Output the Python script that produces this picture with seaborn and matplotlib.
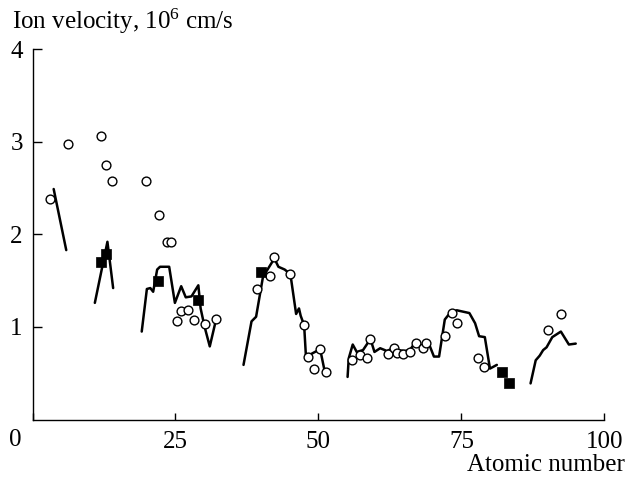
import matplotlib
matplotlib.use("Agg")
import matplotlib.pyplot as plt
import seaborn as sns
import pandas as pd

# Measured ion velocities (open circles) and reference points (filled squares)
circle_z = [3.0, 6.2, 11.9, 12.8, 13.9, 19.9, 22.1, 23.5, 24.2, 25.2, 26.0, 27.2,
            28.2, 30.2, 32.1, 39.2, 41.5, 42.3, 45.1, 47.5, 48.2, 49.3, 50.3, 51.3,
            55.9, 57.3, 58.5, 59.1, 62.1, 63.3, 63.7, 64.8, 66.1, 67.0, 68.3, 68.9,
            72.2, 73.4, 74.2, 77.9, 79.0, 90.2, 92.5]
circle_v = [2.38, 2.98, 3.06, 2.75, 2.58, 2.58, 2.21, 1.92, 1.92, 1.06, 1.17, 1.18,
            1.07, 1.03, 1.09, 1.41, 1.55, 1.76, 1.57, 1.02, 0.67, 0.55, 0.76, 0.51,
            0.64, 0.70, 0.66, 0.87, 0.71, 0.77, 0.72, 0.71, 0.73, 0.83, 0.77, 0.83,
            0.90, 1.15, 1.04, 0.66, 0.57, 0.97, 1.14]

square_z = [11.9, 12.8, 22.0, 28.9, 40.0, 82.1, 83.4]
square_v = [1.70, 1.79, 1.50, 1.29, 1.59, 0.51, 0.39]

# Calculated curves, one per period of the table
seg1_z = [3.7, 5.9]
seg1_v = [2.49, 1.83]
seg2_z = [10.9, 12.0, 13.1, 14.1]
seg2_v = [1.26, 1.59, 1.92, 1.42]
seg3_z = [19.1, 20.0, 20.6, 21.1, 21.8, 22.3, 23.9, 24.9, 26.0, 26.8, 27.8, 29.0,
          29.4, 30.1, 31.0, 32.1]
seg3_v = [0.95, 1.41, 1.42, 1.38, 1.62, 1.65, 1.65, 1.26, 1.44, 1.32, 1.33, 1.45,
          1.20, 1.00, 0.79, 1.08]
seg4_z = [36.9, 38.3, 39.1, 40.3, 42.3, 43.0, 44.1, 45.1, 46.1, 46.6, 46.9, 47.5,
          47.8, 48.5, 50.3, 51.1]
seg4_v = [0.59, 1.06, 1.11, 1.54, 1.74, 1.65, 1.62, 1.57, 1.14, 1.20, 1.12, 1.02,
          0.70, 0.70, 0.76, 0.52]
seg5_z = [55.1, 55.3, 56.0, 56.7, 57.8, 59.1, 59.8, 60.8, 62.0, 63.0, 64.0, 65.0,
          66.0, 67.0, 68.0, 69.5, 70.2, 71.1, 72.1, 73.0, 74.2, 76.4, 77.4, 78.1,
          79.1, 80.0, 80.6, 81.2]
seg5_v = [0.46, 0.66, 0.81, 0.73, 0.75, 0.87, 0.73, 0.77, 0.74, 0.77, 0.75, 0.74,
          0.75, 0.84, 0.80, 0.79, 0.68, 0.68, 1.08, 1.15, 1.18, 1.15, 1.04, 0.90,
          0.89, 0.55, 0.57, 0.59]
seg6_z = [87.1, 88.0, 88.7, 89.3, 89.9, 90.9, 92.4, 93.8, 95.0]
seg6_v = [0.39, 0.64, 0.69, 0.75, 0.78, 0.89, 0.95, 0.81, 0.82]

x_ticks = [0, 25, 50, 75, 100]
y_ticks = [1, 2, 3, 4]

sns.set_style("ticks")
plt.rcParams["font.family"] = ["Liberation Serif", "DejaVu Serif"]
plt.rcParams["mathtext.fontset"] = "custom"
plt.rcParams["mathtext.rm"] = "Liberation Serif"
plt.rcParams["mathtext.it"] = "Liberation Serif:italic"

FS = 18

segments = [(seg1_z, seg1_v), (seg2_z, seg2_v), (seg3_z, seg3_v),
            (seg4_z, seg4_v), (seg5_z, seg5_v), (seg6_z, seg6_v)]
curve = pd.concat(
    [pd.DataFrame({"z": z, "v": v, "seg": i}) for i, (z, v) in enumerate(segments)],
    ignore_index=True)
circles = pd.DataFrame({"z": circle_z, "v": circle_v})
squares = pd.DataFrame({"z": square_z, "v": square_v})

fig = plt.figure(figsize=(6.35, 4.79), dpi=100)
ax = fig.add_axes([0.0512, 0.1242, 0.9005, 0.773])

sns.lineplot(data=curve, x="z", y="v", units="seg", estimator=None, sort=False,
             color="black", linewidth=1.8, ax=ax, zorder=2, legend=False)
sns.scatterplot(data=circles, x="z", y="v", marker="o", s=40, facecolor="white",
                edgecolor="black", linewidth=1.0, ax=ax, zorder=3, legend=False)
sns.scatterplot(data=squares, x="z", y="v", marker="s", s=52, color="black",
                edgecolor="black", linewidth=0.5, ax=ax, zorder=4, legend=False)

ax.set_xlim(0, 100)
ax.set_ylim(0, 4)
ax.set_xticks(x_ticks)
ax.set_yticks(y_ticks)
ax.set_xticklabels([""] + [str(t) for t in x_ticks[1:]])
ax.set_yticklabels([str(t) for t in y_ticks])
ax.set_xlabel("")
ax.set_ylabel("")
sns.despine(ax=ax)
for s in ("left", "bottom"):
    ax.spines[s].set_linewidth(1.0)
    ax.spines[s].set_color("black")
ax.tick_params(axis="x", bottom=True, direction="in", length=5.3, width=1.0,
               pad=8, labelsize=FS, colors="black")
ax.tick_params(axis="y", left=True, direction="in", length=6.8, width=1.0,
               pad=7, labelsize=FS, colors="black")

# "0" label sits left of the corner so it clears the vertical axis
ax.text(-3.0, -0.10, "0", transform=ax.transData, ha="center", va="top",
        fontsize=FS, color="black")

fig.text(12 / 635, 1 - 29.5 / 479, "Ion velocity, 10$^{6}$ cm/s", ha="left",
         va="baseline", fontsize=FS, color="black")
fig.text(625 / 635, 1 - 471 / 479, "Atomic number", ha="right", va="baseline",
         fontsize=FS, color="black")

fig.savefig("out.png", dpi=100)
